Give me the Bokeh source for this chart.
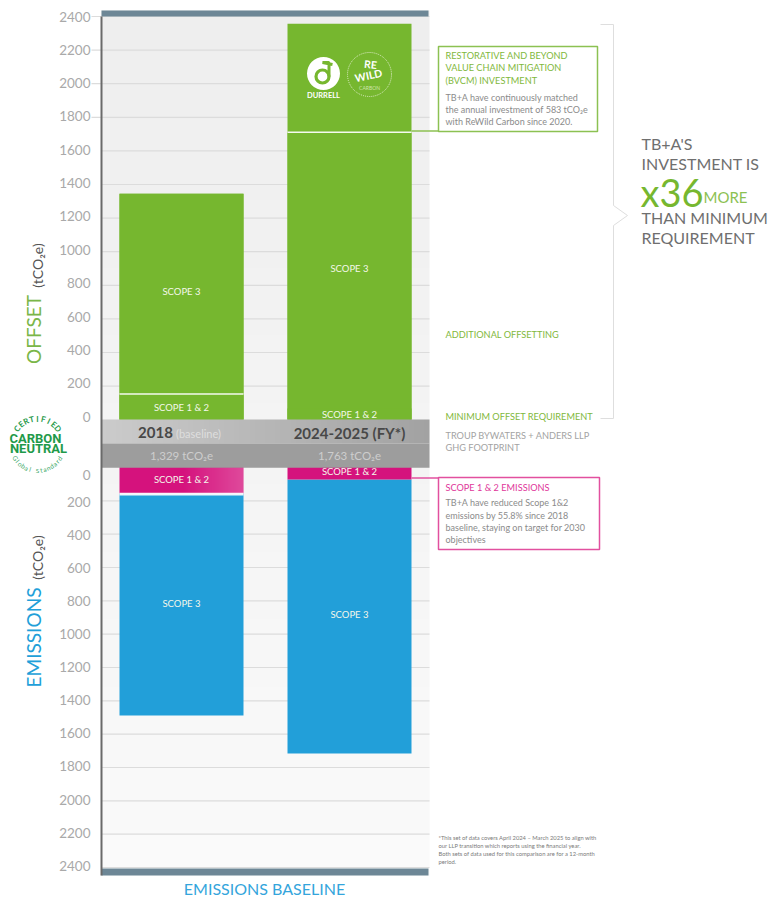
import math
import numpy as np
from bokeh.embed import file_html
from bokeh.resources import INLINE
from bokeh.plotting import figure
from bokeh.models import Range1d, FixedTicker, Label, Arrow, LinearAxis

# ---------- data (tCO2e) ----------
categories = ["2018", "2024-2025 (FY*)"]
footprints = ["1,329 tCO\u2082e", "1,763 tCO\u2082e"]
offset_scope12 = [153, 66]
offset_scope3 = [1192, 1645]
offset_bvcm = [0, 646]
emission_scope12 = [156, 72]
emission_scope3 = [1332, 1644]
tick_values = [0, 200, 400, 600, 800, 1000, 1200, 1400, 1600, 1800, 2000, 2200, 2400]
outer_tick_values = [1800, 2000, 2200, 2400]

# ---------- layout helpers: page pixel -> data ----------
W, H = 769, 897
FRAME_L, FRAME_R, FRAME_T, FRAME_B = 101, 429, 10, 875
UP_ZERO_PX, UP_SCALE = 419.2, 0.168
LOW_ZERO_PX, LOW_SCALE = 467.0, 1 / 6
CAT0_PX, CAT_STEP = 181, 168
BAR_W = 124 / CAT_STEP


def PX(x):
    return (x - CAT0_PX) / CAT_STEP


def PY(y):
    return (UP_ZERO_PX - y) / UP_SCALE


def LOW(e):
    return PY(LOW_ZERO_PX + e * LOW_SCALE)


x_pos = np.arange(len(categories), dtype=float)

p = figure(width=W, height=H, output_backend="svg", toolbar_location=None, tools="",
           x_range=Range1d(PX(0), PX(W)), y_range=Range1d(PY(H), PY(0)),
           x_axis_location=None, y_axis_location=None,
           min_border_left=0, min_border_right=0, min_border_top=0, min_border_bottom=0)
p.outline_line_color = None
p.background_fill_color = "white"
p.border_fill_color = "white"
p.grid.visible = False

GREEN, PINK, BLUE = "#76b72f", "#d5127d", "#229fd9"
GREY_LBL = "#a9a9a9"


def rgba(c0, c1, n=64, a0=255, a1=255):
    t = np.linspace(0, 1, n)
    ch = [np.round(c0[i] + (c1[i] - c0[i]) * t).astype(np.uint32) for i in range(3)]
    al = np.round(a0 + (a1 - a0) * t).astype(np.uint32)
    return ch[0] | (ch[1] << 8) | (ch[2] << 16) | (al << 24)


# panel background (vertical gradient)
grad_v = rgba((0xfa, 0xfa, 0xfa), (0xee, 0xee, 0xee)).reshape(-1, 1)
p.image_rgba(image=[grad_v], x=PX(FRAME_L), y=PY(FRAME_B), dw=PX(FRAME_R) - PX(FRAME_L),
             dh=PY(FRAME_T) - PY(FRAME_B), level="image")

# gridlines over the panel only
grid_ticks = [v for v in tick_values if v > 0]
grid_y = [float(v) for v in grid_ticks] + [LOW(v) for v in grid_ticks]
p.segment(x0=PX(FRAME_L), x1=PX(FRAME_R), y0=grid_y, y1=grid_y, line_color="#dcdcdc", line_width=1.2)
outer_y = [float(v) for v in outer_tick_values]
p.segment(x0=PX(91), x1=PX(FRAME_L), y0=outer_y, y1=outer_y, line_color="#dcdcdc", line_width=1.2)

# stacked bars: offset (up) - overlapping from the base so that no seam shows
s12 = np.array(offset_scope12, float)
s3 = s12 + np.array(offset_scope3, float)
sb = s3 + np.array(offset_bvcm, float)
p.vbar(x=x_pos, bottom=0, top=sb, width=BAR_W, fill_color=GREEN, line_color=None)
p.vbar(x=x_pos, bottom=0, top=s3, width=BAR_W, fill_color=GREEN, line_color=None)
p.vbar(x=x_pos, bottom=0, top=s12, width=BAR_W, fill_color=GREEN, line_color=None)

# stacked bars: emissions (down)
e12 = np.array(emission_scope12, float)
e3 = e12 + np.array(emission_scope3, float)
p.vbar(x=x_pos, bottom=[LOW(v) for v in e3], top=[LOW(v) for v in e12], width=BAR_W, fill_color=BLUE, line_color=None)
p.vbar(x=x_pos, bottom=[LOW(v) for v in e12], top=[LOW(-6)] * 2, width=BAR_W, fill_color=PINK, line_color=None)
# pink highlight on the first bar
glow = rgba((255, 255, 255), (255, 255, 255), a0=0, a1=60).reshape(1, -1)
p.image_rgba(image=[glow], x=x_pos[0], y=LOW(e12[0]), dw=BAR_W / 2, dh=LOW(0) - LOW(e12[0]))

# white separators
p.segment(x0=[x_pos[0] - BAR_W / 2, x_pos[1] - BAR_W / 2, x_pos[0] - BAR_W / 2],
          x1=[x_pos[0] + BAR_W / 2, x_pos[1] + BAR_W / 2, x_pos[0] + BAR_W / 2],
          y0=[s12[0], s3[1], LOW(e12[0] + 4)], y1=[s12[0], s3[1], LOW(e12[0] + 4)],
          line_color="white", line_width=[1.6, 1.6, 2.6], line_alpha=0.92, line_cap="butt")

# central band
band = rgba((0xcb, 0xcb, 0xcb), (0xa2, 0xa2, 0xa2)).reshape(1, -1)
p.image_rgba(image=[band], x=PX(FRAME_L), y=PY(443), dw=PX(FRAME_R) - PX(FRAME_L), dh=PY(419) - PY(443))
p.quad(left=PX(FRAME_L), right=PX(FRAME_R), top=PY(443), bottom=PY(467.3), fill_color="#9d9d9d", line_color=None)

# top / bottom bars
for t, b in ((FRAME_T, 16), (868, FRAME_B)):
    p.quad(left=PX(FRAME_L), right=PX(428), top=PY(t), bottom=PY(b), fill_color="#6d8796", line_color=None)

# axis with labels (upper + mirrored lower), pinned to the panel's left edge
up_lbl = {int(round(PY(416 - v / 6))): str(v) for v in tick_values}
low_lbl = {int(round(PY(468 + v * 0.1655))): str(v) for v in tick_values if v > 0}
low_lbl[int(round(PY(475)))] = "0"
overrides = {**up_lbl, **low_lbl}
axis = LinearAxis(fixed_location=PX(FRAME_L), ticker=FixedTicker(ticks=sorted(overrides)),
                  major_label_overrides=overrides, major_tick_in=0, major_tick_out=0,
                  minor_tick_in=0, minor_tick_out=0, major_label_standoff=11,
                  major_label_text_color=GREY_LBL, major_label_text_font="Lato",
                  major_label_text_font_size="13.5px", axis_line_color="#6a6a6a", axis_line_width=2,
                  bounds=(PY(FRAME_B), PY(16)))
p.add_layout(axis, "left")


def seg(x0, y0, x1, y1, color, width=1.0):
    p.add_layout(Arrow(end=None, x_start=PX(x0), y_start=PY(y0), x_end=PX(x1), y_end=PY(y1),
                       line_color=color, line_width=width))


def rect(x0, y0, x1, y1, color, width=1.5):
    p.quad(left=PX(x0), right=PX(x1), top=PY(y0), bottom=PY(y1), fill_color=None, line_color=color, line_width=width)


def T(text, x, y, size, color, align="left", style="normal", angle=0, font="Lato"):
    p.add_layout(Label(x=PX(x), y=PY(y), text=text, text_font=font,
                       text_font_size=f"{size}px", text_color=color, text_align=align, text_baseline="middle",
                       text_font_style=style, angle=angle, angle_units="deg"))


# bar labels
WHITE_TXT = "#f4f7ea"
for x, y, txt in ((181, 291, "SCOPE 3"), (349, 268, "SCOPE 3"), (181, 407, "SCOPE 1 & 2"), (349, 414, "SCOPE 1 & 2"),
                  (181, 479, "SCOPE 1 & 2"), (349, 471, "SCOPE 1 & 2"), (181, 603, "SCOPE 3"), (349, 614, "SCOPE 3")):
    T(txt, x, y, 9.5, WHITE_TXT, "center")

# band labels
T("2018", 155, 432, 15, "#484848", "center", "bold")
T("(baseline)", 198, 433, 11, "#dedede", "center")
T(categories[1], 349, 432, 15, "#484848", "center", "bold")
T(footprints[0], 181, 455, 11.5, "#cdcdcd", "center")
T(footprints[1], 349, 455, 11.5, "#cdcdcd", "center")

# rotated axis titles
T("OFFSET", 33, 329, 19, "#7ab648", "center", angle=90)
T("(tCO\u2082e)", 37, 265, 14, "#555555", "center", angle=90)
T("EMISSIONS", 33, 637, 19, BLUE, "center", angle=90)
T("(tCO\u2082e)", 37, 557, 14, "#555555", "center", angle=90)

# carbon-neutral logo
LOGO = "#1f9a4a"
CX, CY, R = 37, 444, 26
word = "CERTIFIED"
for i, ch in enumerate(word):
    a = math.radians(142 - i * (104 / (len(word) - 1)))
    T(ch, CX + R * math.cos(a), CY - R * math.sin(a), 8, LOGO, "center", "bold", math.degrees(a) - 90)
word = "Global Standard"
for i, ch in enumerate(word):
    a = math.radians(212 + i * (116 / (len(word) - 1)))
    T(ch, CX + R * math.cos(a), CY - R * math.sin(a), 6.5, "#3aa866", "center", "normal", math.degrees(a) + 90)
T("CARBON", 35, 438, 13, LOGO, "center", "bold", font="Roboto")
T("NEUTRAL", 38, 448, 13, LOGO, "center", "bold", font="Roboto")

# Durrell logo
p.scatter(x=[PX(323)], y=[PY(73)], size=33, marker="circle", fill_color="white", line_color=None)
p.scatter(x=[PX(322)], y=[PY(76)], size=13, marker="circle", fill_color=None, line_color=GREEN, line_width=3.2)
p.line(x=[PX(328.5), PX(328.5), PX(322), PX(332)], y=[PY(76), PY(62), PY(62), PY(64)], line_color=GREEN, line_width=3)
T("DURRELL", 323, 95, 7.5, "white", "center", "bold")
# ReWild logo
p.scatter(x=[PX(369)], y=[PY(74)], size=44, marker="circle", fill_color=None, line_color="#dfeec8", line_width=1, line_dash="1 1")
T("RE", 370, 64, 10.5, "white", "center", "bold", -6)
T("WILD", 368, 75, 10.5, "white", "center", "bold", 12)
T("CARBON", 369, 87, 5, "#cfe4ad", "center")

# annotation boxes
rect(438, 46, 597, 131, "#8cc152")
seg(411, 130.5, 438, 130.5, "#8cc152", 1.5)
rect(438, 477, 599, 549, "#e2509f")
seg(411, 477.5, 438, 477.5, "#e2509f", 1.5)

TXT_G = "#7fb83c"
TXT_D = "#8b8b8b"
CAP = 9.2
BODY = 9
for y, line in ((55, "RESTORATIVE AND BEYOND"), (67, "VALUE CHAIN MITIGATION"), (80, "(BVCM) INVESTMENT")):
    T(line, 445, y, CAP, TXT_G)
for y, line in ((97, "TB+A have continuously matched"), (109, "the annual investment of 583 tCO\u2082e"),
                (121, "with ReWild Carbon since 2020.")):
    T(line, 445, y, BODY, TXT_D)
T("ADDITIONAL OFFSETTING", 445, 334, CAP, TXT_G)
T("MINIMUM OFFSET REQUIREMENT", 445, 416, CAP, TXT_G)
T("TROUP BYWATERS + ANDERS LLP", 445, 435, CAP, "#a3a3a3")
T("GHG FOOTPRINT", 445, 447, CAP, "#a3a3a3")
T("SCOPE 1 & 2 EMISSIONS", 445, 487, CAP, "#e0359a")
for y, line in ((502, "TB+A have reduced Scope 1&2"), (515, "emissions by 55.8% since 2018"),
                (527, "baseline, staying on target for 2030"), (539, "objectives")):
    T(line, 445, y, BODY, TXT_D)
for y, line in ((837, "*This set of data covers April 2024 \u2013 March 2025 to align with"),
                (845, "our LLP transition which reports using the financial year."),
                (853, "Both sets of data used for this comparison are for a 12-month"),
                (861, "period.")):
    T(line, 438, y, 5.8, "#7a7a7a")

# bracket
BR = "#dedede"
seg(600, 24, 613, 24, BR)
seg(613, 24, 613, 205, BR)
seg(613, 205, 627, 215, BR)
seg(627, 215, 613, 225, BR)
seg(613, 225, 613, 418, BR)
seg(600, 418, 613, 418, BR)

# right-hand call-out
SIDE = 16
T("TB+A'S", 641, 143, SIDE, "#6f6f6f")
T("INVESTMENT IS", 641, 163, SIDE, "#6f6f6f")
T("x36", 640, 191, 38, GREEN)
T("MORE", 703, 196, 15, "#8cc152")
T("THAN MINIMUM", 641, 217, SIDE, "#6f6f6f")
T("REQUIREMENT", 641, 237, SIDE, "#6f6f6f")

# x-axis style title
T("EMISSIONS BASELINE", 264, 887.5, 16, "#34a5dc", "center")

open("out.html", "w").write(file_html(p, INLINE))
